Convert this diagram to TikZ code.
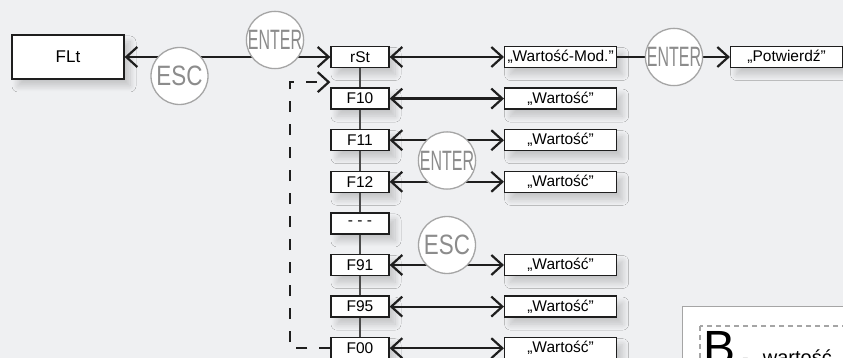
\documentclass[tikz,border=0pt]{standalone}
\usepackage{fontspec}
\setmainfont{Liberation Sans}
\usepackage{graphicx}
\usetikzlibrary{arrows.meta, shadows.blur}
\definecolor{paper}{RGB}{239,240,242}
\definecolor{ink}{RGB}{30,30,30}
\definecolor{keygray}{RGB}{165,165,165}
\definecolor{keytext}{RGB}{140,140,140}
\newcommand{\squeezed}[2]{\scalebox{#1}[1]{#2}}

\begin{document}
\begin{tikzpicture}[x=1pt, y=-1pt, node distance=41.6pt,
    >={Straight Barb[length=11pt, width=20pt]},
    box/.style={rectangle, draw=ink, fill=white, line width=1.3pt, minimum width=58pt, minimum height=21pt, inner sep=0pt, font=\fontsize{15.5}{16}\selectfont, blur shadow={shadow xshift=6pt, shadow yshift=-7pt, shadow blur radius=6pt, shadow blur steps=10, shadow opacity=18}},
    mainbox/.style={box, minimum width=112pt, minimum height=44pt, font=\fontsize{17}{18}\selectfont},
    valbox/.style={box, minimum width=112pt},
    key/.style={circle, draw=keygray, fill=white, line width=1.3pt, minimum size=57pt, inner sep=0pt, text=keytext, font=\fontsize{28}{28}\selectfont},
    wire/.style={draw=ink, line width=2.2pt},
    link/.style={draw=ink!80, line width=1.4pt}]
    \fill[paper] (0,0) rectangle (843,358);
    \useasboundingbox (0,0) rectangle (843,358);
    \clip (0,0) rectangle (843,358);
    \node[mainbox] (flt) at (68,57) {FLt};
    \node[box] (rst) at (360,57) {rSt};
    \node[box, below of=rst] (f10) {F10};
    \node[box, below of=f10] (f11) {F11};
    \node[box, below of=f11] (f12) {F12};
    \node[box, below of=f12] (fdots) {- - -};
    \node[box, below of=fdots] (f91) {F91};
    \node[box, below of=f91] (f95) {F95};
    \node[box, below of=f95] (f00) {F00};
    \node[valbox, right of=rst, xshift=159pt] (wmod) {„Wartość-Mod.”};
    \node[valbox, right of=wmod, xshift=184.4pt] (potw) {„Potwierdź”};
    \foreach \fn in {f10,f11,f12,f91,f95,f00}
        \node[valbox, right of=\fn, xshift=159pt] (v\fn) {„Wartość”};
    \foreach \a/\b in {rst/f10, f10/f11, f11/f12, f12/fdots, fdots/f91, f91/f95, f95/f00}
        \draw[link] (\a) -- (\b);
    \draw[wire, <->] (flt) -- (rst);
    \draw[wire, <->] (rst) -- (wmod);
    \foreach \fn in {f10,f11,f12,f91,f95,f00}
        \draw[wire, <->] (\fn) -- (v\fn);
    \draw[wire, ->] (wmod) -- (potw);
    \coordinate (back) at ([yshift=-14pt]rst.south west);
    \draw[wire, ->, dash pattern=on 11pt off 12pt] (f00.west) -| ([xshift=-40pt]back) -- (back);
    \node[key] (esc1) at (179.5,76) {\squeezed{0.8}{ESC}};
    \node[key] (ent1) at (275,40) {\squeezed{0.57}{ENTER}};
    \node[key] (ent2) at (674,57) {\squeezed{0.57}{ENTER}};
    \node[key] (ent3) at (447,160.5) {\squeezed{0.57}{ENTER}};
    \node[key] (esc2) at (447,245) {\squeezed{0.8}{ESC}};
    \draw[draw=keygray, fill=white, line width=0.8pt] (682,306) rectangle (900,420);
    \draw[draw=keygray, line width=2.2pt, dash pattern=on 5pt off 4pt] (700,326) rectangle (900,420);
    \node[anchor=base west, inner sep=0pt, font=\fontsize{48}{48}\selectfont] (keyb) at (703,364) {B};
    \node[anchor=base west, inner sep=0pt, font=\fontsize{20}{20}\selectfont] (keytxt) at (742,364) {-\hspace{14pt}wartość};
\end{tikzpicture}
\end{document}
